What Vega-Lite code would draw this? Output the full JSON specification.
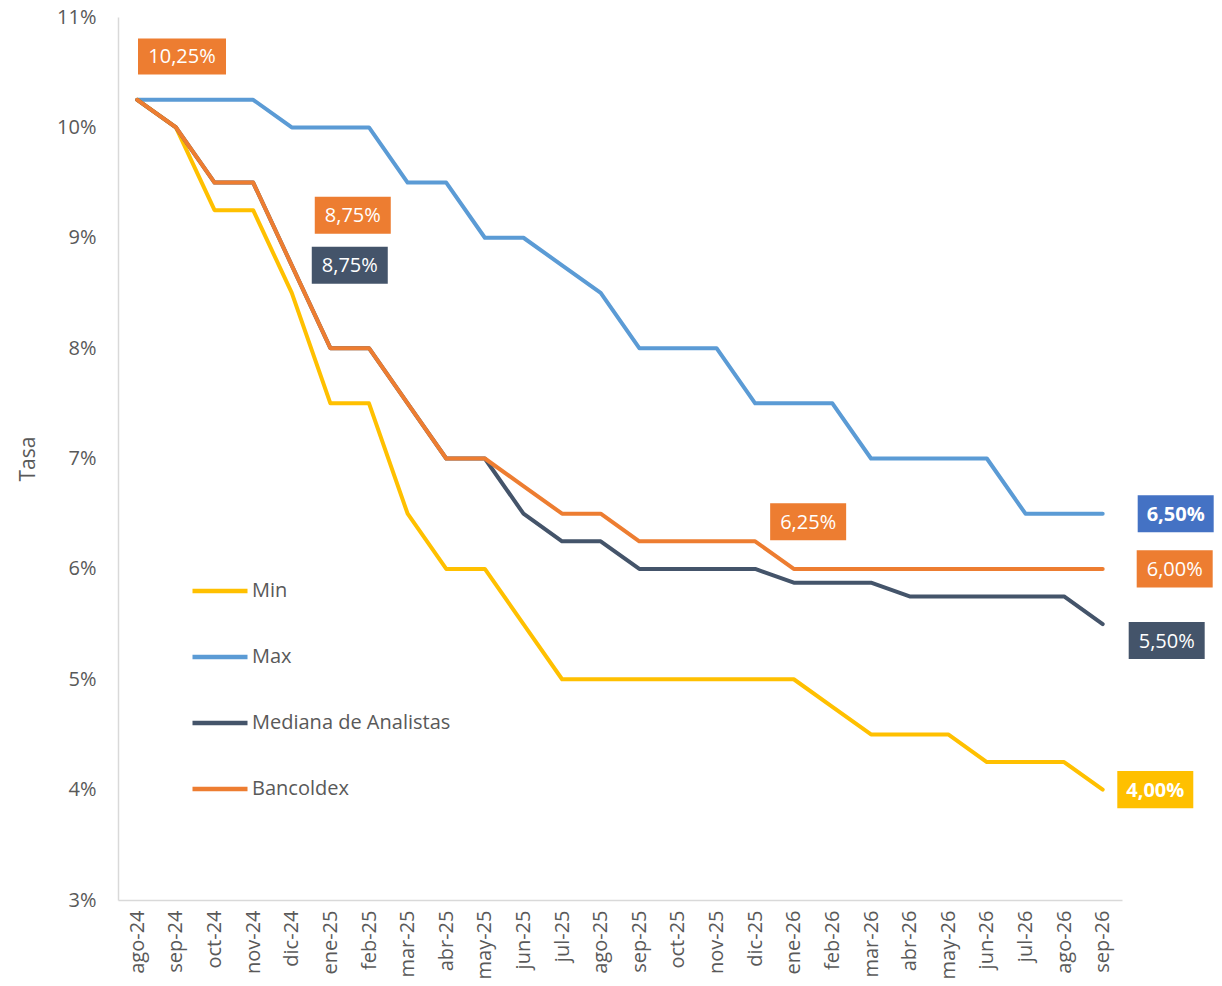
{
  "$schema": "https://vega.github.io/schema/vega-lite/v6.json",
  "width": 1004,
  "height": 883,
  "autosize": {"type": "none"},
  "padding": {"left": 118, "top": 17, "right": 100, "bottom": 86},
  "background": "white",
  "config": {"view": {"stroke": null}, "font": "Open Sans"},
  "datasets": {
    "series": [
      {"s":"Max","m":"ago-24","v":10.25},{"s":"Max","m":"sep-24","v":10.25},{"s":"Max","m":"oct-24","v":10.25},{"s":"Max","m":"nov-24","v":10.25},{"s":"Max","m":"dic-24","v":10},{"s":"Max","m":"ene-25","v":10},{"s":"Max","m":"feb-25","v":10},{"s":"Max","m":"mar-25","v":9.5},{"s":"Max","m":"abr-25","v":9.5},{"s":"Max","m":"may-25","v":9},{"s":"Max","m":"jun-25","v":9},{"s":"Max","m":"jul-25","v":8.75},{"s":"Max","m":"ago-25","v":8.5},{"s":"Max","m":"sep-25","v":8},{"s":"Max","m":"oct-25","v":8},{"s":"Max","m":"nov-25","v":8},{"s":"Max","m":"dic-25","v":7.5},{"s":"Max","m":"ene-26","v":7.5},{"s":"Max","m":"feb-26","v":7.5},{"s":"Max","m":"mar-26","v":7},{"s":"Max","m":"abr-26","v":7},{"s":"Max","m":"may-26","v":7},{"s":"Max","m":"jun-26","v":7},{"s":"Max","m":"jul-26","v":6.5},{"s":"Max","m":"ago-26","v":6.5},{"s":"Max","m":"sep-26","v":6.5},
      {"s":"Min","m":"ago-24","v":10.25},{"s":"Min","m":"sep-24","v":10},{"s":"Min","m":"oct-24","v":9.25},{"s":"Min","m":"nov-24","v":9.25},{"s":"Min","m":"dic-24","v":8.5},{"s":"Min","m":"ene-25","v":7.5},{"s":"Min","m":"feb-25","v":7.5},{"s":"Min","m":"mar-25","v":6.5},{"s":"Min","m":"abr-25","v":6},{"s":"Min","m":"may-25","v":6},{"s":"Min","m":"jun-25","v":5.5},{"s":"Min","m":"jul-25","v":5},{"s":"Min","m":"ago-25","v":5},{"s":"Min","m":"sep-25","v":5},{"s":"Min","m":"oct-25","v":5},{"s":"Min","m":"nov-25","v":5},{"s":"Min","m":"dic-25","v":5},{"s":"Min","m":"ene-26","v":5},{"s":"Min","m":"feb-26","v":4.75},{"s":"Min","m":"mar-26","v":4.5},{"s":"Min","m":"abr-26","v":4.5},{"s":"Min","m":"may-26","v":4.5},{"s":"Min","m":"jun-26","v":4.25},{"s":"Min","m":"jul-26","v":4.25},{"s":"Min","m":"ago-26","v":4.25},{"s":"Min","m":"sep-26","v":4},
      {"s":"Mediana de Analistas","m":"ago-24","v":10.25},{"s":"Mediana de Analistas","m":"sep-24","v":10},{"s":"Mediana de Analistas","m":"oct-24","v":9.5},{"s":"Mediana de Analistas","m":"nov-24","v":9.5},{"s":"Mediana de Analistas","m":"dic-24","v":8.75},{"s":"Mediana de Analistas","m":"ene-25","v":8},{"s":"Mediana de Analistas","m":"feb-25","v":8},{"s":"Mediana de Analistas","m":"mar-25","v":7.5},{"s":"Mediana de Analistas","m":"abr-25","v":7},{"s":"Mediana de Analistas","m":"may-25","v":7},{"s":"Mediana de Analistas","m":"jun-25","v":6.5},{"s":"Mediana de Analistas","m":"jul-25","v":6.25},{"s":"Mediana de Analistas","m":"ago-25","v":6.25},{"s":"Mediana de Analistas","m":"sep-25","v":6},{"s":"Mediana de Analistas","m":"oct-25","v":6},{"s":"Mediana de Analistas","m":"nov-25","v":6},{"s":"Mediana de Analistas","m":"dic-25","v":6},{"s":"Mediana de Analistas","m":"ene-26","v":5.875},{"s":"Mediana de Analistas","m":"feb-26","v":5.875},{"s":"Mediana de Analistas","m":"mar-26","v":5.875},{"s":"Mediana de Analistas","m":"abr-26","v":5.75},{"s":"Mediana de Analistas","m":"may-26","v":5.75},{"s":"Mediana de Analistas","m":"jun-26","v":5.75},{"s":"Mediana de Analistas","m":"jul-26","v":5.75},{"s":"Mediana de Analistas","m":"ago-26","v":5.75},{"s":"Mediana de Analistas","m":"sep-26","v":5.5},
      {"s":"Bancoldex","m":"ago-24","v":10.25},{"s":"Bancoldex","m":"sep-24","v":10},{"s":"Bancoldex","m":"oct-24","v":9.5},{"s":"Bancoldex","m":"nov-24","v":9.5},{"s":"Bancoldex","m":"dic-24","v":8.75},{"s":"Bancoldex","m":"ene-25","v":8},{"s":"Bancoldex","m":"feb-25","v":8},{"s":"Bancoldex","m":"mar-25","v":7.5},{"s":"Bancoldex","m":"abr-25","v":7},{"s":"Bancoldex","m":"may-25","v":7},{"s":"Bancoldex","m":"jun-25","v":6.75},{"s":"Bancoldex","m":"jul-25","v":6.5},{"s":"Bancoldex","m":"ago-25","v":6.5},{"s":"Bancoldex","m":"sep-25","v":6.25},{"s":"Bancoldex","m":"oct-25","v":6.25},{"s":"Bancoldex","m":"nov-25","v":6.25},{"s":"Bancoldex","m":"dic-25","v":6.25},{"s":"Bancoldex","m":"ene-26","v":6},{"s":"Bancoldex","m":"feb-26","v":6},{"s":"Bancoldex","m":"mar-26","v":6},{"s":"Bancoldex","m":"abr-26","v":6},{"s":"Bancoldex","m":"may-26","v":6},{"s":"Bancoldex","m":"jun-26","v":6},{"s":"Bancoldex","m":"jul-26","v":6},{"s":"Bancoldex","m":"ago-26","v":6},{"s":"Bancoldex","m":"sep-26","v":6}
    ],
    "labels": [
      {"id":"a","s":"Bancoldex","m":"ago-24","v":10.25,"t":"10,25%"},
      {"id":"b","s":"Bancoldex","m":"dic-24","v":8.75,"t":"8,75%"},
      {"id":"c","s":"Mediana de Analistas","m":"dic-24","v":8.75,"t":"8,75%"},
      {"id":"d","s":"Bancoldex","m":"dic-25","v":6.25,"t":"6,25%"},
      {"id":"e","s":"Max","m":"sep-26","v":6.5,"t":"6,50%"},
      {"id":"f","s":"Bancoldex","m":"sep-26","v":6,"t":"6,00%"},
      {"id":"g","s":"Mediana de Analistas","m":"sep-26","v":5.5,"t":"5,50%"},
      {"id":"h","s":"Min","m":"sep-26","v":4,"t":"4,00%"}
    ]
  },
  "encoding": {
    "x": {
      "field": "m", "type": "ordinal",
      "scale": {"type": "point", "padding": 0.5, "domain": ["ago-24","sep-24","oct-24","nov-24","dic-24","ene-25","feb-25","mar-25","abr-25","may-25","jun-25","jul-25","ago-25","sep-25","oct-25","nov-25","dic-25","ene-26","feb-26","mar-26","abr-26","may-26","jun-26","jul-26","ago-26","sep-26"]},
      "axis": {"title": null, "labelAngle": -90, "labelAlign": "right", "labelBaseline": "middle", "labelPadding": 10, "labelFontSize": 20, "labelColor": "#595959", "ticks": false, "grid": false, "domainColor": "#D9D9D9", "domainWidth": 1.5}
    },
    "y": {
      "field": "v", "type": "quantitative",
      "scale": {"domain": [3, 11], "nice": false, "zero": false},
      "axis": {"title": "Tasa", "values": [3,4,5,6,7,8,9,10,11], "labelExpr": "datum.value + '%'", "grid": false, "ticks": false, "domainColor": "#D9D9D9", "domainWidth": 1.5, "labelFontSize": 20, "labelColor": "#595959", "labelPadding": 22, "titleFontSize": 21, "titleColor": "#595959", "titleFontWeight": "normal", "titlePadding": 18}
    }
  },
  "layer": [
    {
      "data": {"name": "series"},
      "mark": {"type": "line", "strokeWidth": 4, "strokeCap": "round", "strokeJoin": "round"},
      "encoding": {
        "color": {
          "field": "s", "type": "nominal",
          "scale": {"domain": ["Min","Max","Mediana de Analistas","Bancoldex"], "range": ["#FFC000","#5B9BD5","#44546A","#ED7D31"]},
          "legend": {"orient": "none", "legendX": 72, "legendY": 544, "title": null, "symbolType": "stroke", "symbolSize": 3025, "symbolStrokeWidth": 4.5, "labelFontSize": 20, "labelColor": "#595959", "labelOffset": 2, "labelLimit": 0, "rowPadding": 26, "padding": 0}
        }
      }
    },
    {"data": {"name": "labels"}, "transform": [{"filter": "datum.id == 'a'"}], "mark": {"type": "point", "shape": "M-1,-0.409H1V0.409H-1Z", "size": 7744, "filled": true, "opacity": 1, "strokeWidth": 0, "fill": "#ED7D31", "xOffset": 44.7, "yOffset": -43.3}},
    {"data": {"name": "labels"}, "transform": [{"filter": "datum.id == 'a'"}], "mark": {"type": "text", "color": "white", "fontSize": 20, "align": "center", "baseline": "middle", "xOffset": 44.7, "yOffset": -42.3}, "encoding": {"text": {"field": "t"}}},
    {"data": {"name": "labels"}, "transform": [{"filter": "datum.id == 'b'"}], "mark": {"type": "point", "shape": "M-1,-0.487H1V0.487H-1Z", "size": 5776, "filled": true, "opacity": 1, "strokeWidth": 0, "fill": "#ED7D31", "xOffset": 61, "yOffset": -50}},
    {"data": {"name": "labels"}, "transform": [{"filter": "datum.id == 'b'"}], "mark": {"type": "text", "color": "white", "fontSize": 20, "align": "center", "baseline": "middle", "xOffset": 61, "yOffset": -49}, "encoding": {"text": {"field": "t"}}},
    {"data": {"name": "labels"}, "transform": [{"filter": "datum.id == 'c'"}], "mark": {"type": "point", "shape": "M-1,-0.487H1V0.487H-1Z", "size": 5776, "filled": true, "opacity": 1, "strokeWidth": 0, "fill": "#44546A", "xOffset": 58, "yOffset": 0}},
    {"data": {"name": "labels"}, "transform": [{"filter": "datum.id == 'c'"}], "mark": {"type": "text", "color": "white", "fontSize": 20, "align": "center", "baseline": "middle", "xOffset": 58, "yOffset": 1}, "encoding": {"text": {"field": "t"}}},
    {"data": {"name": "labels"}, "transform": [{"filter": "datum.id == 'd'"}], "mark": {"type": "point", "shape": "M-1,-0.487H1V0.487H-1Z", "size": 5776, "filled": true, "opacity": 1, "strokeWidth": 0, "fill": "#ED7D31", "xOffset": 53, "yOffset": -19.5}},
    {"data": {"name": "labels"}, "transform": [{"filter": "datum.id == 'd'"}], "mark": {"type": "text", "color": "white", "fontSize": 20, "align": "center", "baseline": "middle", "xOffset": 53, "yOffset": -18.5}, "encoding": {"text": {"field": "t"}}},
    {"data": {"name": "labels"}, "transform": [{"filter": "datum.id == 'e'"}], "mark": {"type": "point", "shape": "M-1,-0.487H1V0.487H-1Z", "size": 5776, "filled": true, "opacity": 1, "strokeWidth": 0, "fill": "#4472C4", "xOffset": 73, "yOffset": 0}},
    {"data": {"name": "labels"}, "transform": [{"filter": "datum.id == 'e'"}], "mark": {"type": "text", "color": "white", "fontSize": 20, "fontWeight": "bold", "align": "center", "baseline": "middle", "xOffset": 73, "yOffset": 1}, "encoding": {"text": {"field": "t"}}},
    {"data": {"name": "labels"}, "transform": [{"filter": "datum.id == 'f'"}], "mark": {"type": "point", "shape": "M-1,-0.487H1V0.487H-1Z", "size": 5776, "filled": true, "opacity": 1, "strokeWidth": 0, "fill": "#ED7D31", "xOffset": 72, "yOffset": 0}},
    {"data": {"name": "labels"}, "transform": [{"filter": "datum.id == 'f'"}], "mark": {"type": "text", "color": "white", "fontSize": 20, "align": "center", "baseline": "middle", "xOffset": 72, "yOffset": 1}, "encoding": {"text": {"field": "t"}}},
    {"data": {"name": "labels"}, "transform": [{"filter": "datum.id == 'g'"}], "mark": {"type": "point", "shape": "M-1,-0.487H1V0.487H-1Z", "size": 5776, "filled": true, "opacity": 1, "strokeWidth": 0, "fill": "#44546A", "xOffset": 64, "yOffset": 16.5}},
    {"data": {"name": "labels"}, "transform": [{"filter": "datum.id == 'g'"}], "mark": {"type": "text", "color": "white", "fontSize": 20, "align": "center", "baseline": "middle", "xOffset": 64, "yOffset": 17.5}, "encoding": {"text": {"field": "t"}}},
    {"data": {"name": "labels"}, "transform": [{"filter": "datum.id == 'h'"}], "mark": {"type": "point", "shape": "M-1,-0.487H1V0.487H-1Z", "size": 5776, "filled": true, "opacity": 1, "strokeWidth": 0, "fill": "#FFC000", "xOffset": 52.6, "yOffset": 0}},
    {"data": {"name": "labels"}, "transform": [{"filter": "datum.id == 'h'"}], "mark": {"type": "text", "color": "white", "fontSize": 20, "fontWeight": "bold", "align": "center", "baseline": "middle", "xOffset": 52.6, "yOffset": 1}, "encoding": {"text": {"field": "t"}}}
  ]
}
